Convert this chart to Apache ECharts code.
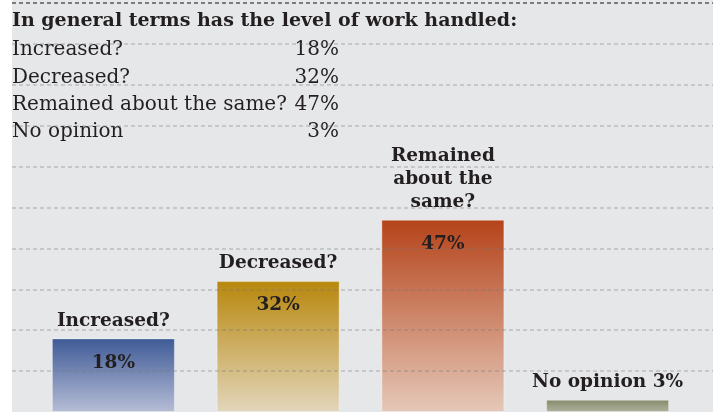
<!DOCTYPE html>
<html>
<head>
<meta charset="utf-8">
<script src="https://cdn.jsdelivr.net/npm/echarts@6/dist/echarts.min.js"></script>
<style>
  html, body { margin: 0; padding: 0; }
  #chart {
    width: 713px; height: 412px;
    background: linear-gradient(to right, #ffffff 12px, #e6e7e9 12px);
  }
</style>
</head>
<body>
<div id="chart"></div>
<script>
// Survey: change in the level of work handled
const questionTitle = 'In general terms has the level of work handled:';
const categories = ['Increased?', 'Decreased?', 'Remained about the same?', 'No opinion'];
const barNames = ['Increased?', 'Decreased?', 'Remained\nabout the\nsame?', 'No opinion 3%'];
const shares = [18, 32, 47, 3];
const showInnerValue = [true, true, true, false];
const topColors = ['#3e5a96', '#b8870c', '#b5431a', '#858a6b'];
const bottomColors = ['#b6bdd6', '#e2d6bb', '#e5c8b8', '#b0b29c'];

const serif = '"DejaVu Serif", "Liberation Serif", serif';
const ink = '#231f20';

// baseline line hidden, top line darker, the rest light dashes
const gridLineColors = [];
for (let i = 0; i <= 10; i++) {
  gridLineColors.push(i === 0 ? 'rgba(0,0,0,0)' : (i === 10 ? '#5a5a5a' : 'rgba(120,120,120,0.38)'));
}

function fillFor(i) {
  return new echarts.graphic.LinearGradient(0, 0, 0, 1, [
    { offset: 0, color: topColors[i] },
    { offset: 1, color: bottomColors[i] }
  ]);
}

// List of answers at the top left
const listGraphics = [{
  type: 'text', left: 12, top: 12,
  style: { text: questionTitle, font: 'bold 19px ' + serif, fill: ink }
}];
const rowTops = [40, 68, 95, 122];
categories.forEach((c, i) => {
  listGraphics.push({
    type: 'text', left: 12, top: rowTops[i],
    style: { text: c, font: '20px ' + serif, fill: ink }
  });
  listGraphics.push({
    type: 'text', right: 713 - 339, top: rowTops[i],
    style: { text: shares[i] + '%', font: '20px ' + serif, fill: ink, align: 'right' }
  });
});

const chart = echarts.init(document.getElementById('chart'), null, { renderer: 'canvas' });
chart.setOption({
  backgroundColor: 'transparent',
  animation: false,
  grid: [
    { left: 12, right: 0, top: 3, height: 410 },
    { left: 31, right: 23, top: 3, height: 410 }
  ],
  xAxis: [
    { type: 'value', gridIndex: 0, show: false },
    { type: 'category', gridIndex: 1, data: categories, show: false }
  ],
  yAxis: [
    {
      type: 'value', gridIndex: 0, min: 0, max: 100, interval: 10, z: 5,
      axisLine: { show: false }, axisTick: { show: false }, axisLabel: { show: false },
      splitLine: { show: true, lineStyle: { color: gridLineColors, type: [4, 3], width: 1.5 } }
    },
    {
      type: 'value', gridIndex: 1, min: 0, max: 100, show: false,
      splitLine: { show: false }
    }
  ],
  series: [
    {
      type: 'bar', xAxisIndex: 1, yAxisIndex: 1, barWidth: 123,
      data: shares.map((v, i) => ({
        value: v,
        itemStyle: { color: fillFor(i), borderColor: 'rgba(255,255,255,0.35)', borderWidth: 1 }
      })),
      label: {
        show: true, position: 'top', distance: 6,
        formatter: p => barNames[p.dataIndex],
        fontFamily: serif, fontWeight: 'bold', fontSize: 18.5, lineHeight: 23,
        color: ink, align: 'center'
      }
    },
    {
      type: 'bar', xAxisIndex: 1, yAxisIndex: 1, barWidth: 123, barGap: '-100%',
      itemStyle: { color: 'rgba(0,0,0,0)' },
      data: shares.map((v, i) => ({ value: v, label: { show: showInnerValue[i] } })),
      label: {
        position: 'insideTop', distance: 15,
        formatter: p => p.value + '%',
        fontFamily: serif, fontWeight: 'bold', fontSize: 18.5, color: ink
      }
    }
  ],
  graphic: listGraphics
});
</script>
</body>
</html>
